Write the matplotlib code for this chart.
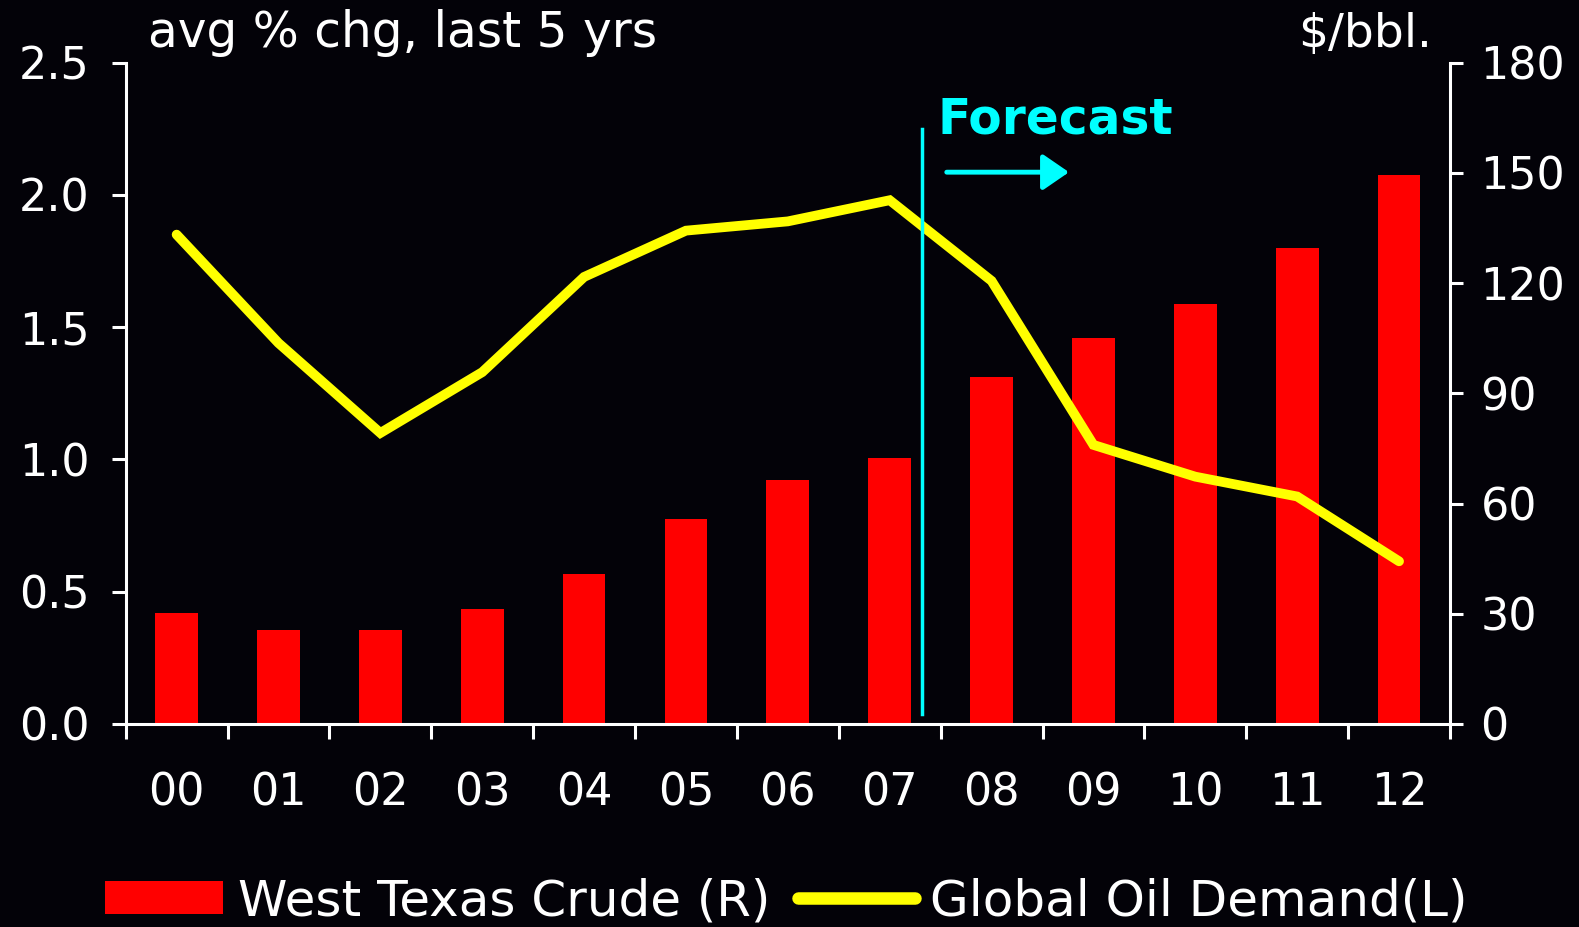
import numpy as np
import matplotlib
matplotlib.use("Agg")
import matplotlib.pyplot as plt
from matplotlib.patches import Patch
from matplotlib.lines import Line2D

plt.rcParams['font.family'] = ['DejaVu Sans']

years = ["00", "01", "02", "03", "04", "05", "06", "07", "08", "09", "10", "11", "12"]
wti_crude = [30.2, 25.6, 25.6, 31.2, 40.8, 55.8, 66.4, 72.4, 94.4, 105.1, 114.3, 129.6, 149.5]
oil_demand = [1.85, 1.44, 1.10, 1.33, 1.69, 1.865, 1.90, 1.98, 1.675, 1.055, 0.935, 0.86, 0.615]
left_ticks = [0.0, 0.5, 1.0, 1.5, 2.0, 2.5]
right_ticks = [0, 30, 60, 90, 120, 150, 180]

BG = '#030208'
RED = '#FF0000'
YEL = '#FFFF00'
CYAN = '#00FFFF'

fig = plt.figure(figsize=(15.79, 9.27), dpi=100, facecolor=BG)
ax = fig.add_axes([0.0796, 0.219, 0.8387, 0.7134])
ax2 = ax.twinx()
ax.set_zorder(ax2.get_zorder() + 1)
ax.patch.set_visible(False)
ax2.set_facecolor(BG)

x = np.arange(len(years))
ax2.bar(x, wti_crude, width=0.42, color=RED, linewidth=0)
ax.plot(x, oil_demand, color=YEL, linewidth=7, solid_capstyle='round',
        solid_joinstyle='miter')

ax.set_xlim(-0.5, len(years) - 0.5)
ax.set_ylim(0, 2.5)
ax2.set_ylim(0, 180)

ax.set_yticks(left_ticks)
ax.set_yticklabels([f"{v:.1f}" for v in left_ticks])
ax2.set_yticks(right_ticks)
ax2.set_yticklabels([str(v) for v in right_ticks])

ax.set_xticks(np.arange(-0.5, len(years), 1.0))
ax.set_xticklabels([])
ax.set_xticks(x, minor=True)
ax.set_xticklabels(years, minor=True)

for sp in ['top', 'right']:
    ax.spines[sp].set_visible(False)
for sp in ['left', 'bottom']:
    ax.spines[sp].set_color('white')
    ax.spines[sp].set_linewidth(2.2)
for sp in ['top', 'left', 'bottom']:
    ax2.spines[sp].set_visible(False)
ax2.spines['right'].set_color('white')
ax2.spines['right'].set_linewidth(2.2)

ax.tick_params(axis='x', which='major', direction='out', length=11, width=2.2, color='white')
ax.tick_params(axis='x', which='minor', length=0, pad=34, labelsize=32, labelcolor='white')
ax.tick_params(axis='y', direction='out', length=10, width=2.2, color='white', pad=16,
               labelsize=32, labelcolor='white')
ax2.tick_params(axis='y', direction='out', length=9, width=2.2, color='white', pad=13,
                labelsize=32, labelcolor='white')

# Forecast marker
ax.axvline(7.32, ymin=0.015, ymax=0.9, color=CYAN, linewidth=2.5, zorder=5)
ax.annotate('', xy=(8.76, 2.086), xytext=(7.56, 2.086),
            arrowprops=dict(arrowstyle='-|>,head_length=0.8,head_width=0.55',
                            color=CYAN, lw=3.5, mutation_scale=20, capstyle='round',
                            shrinkA=0, shrinkB=0))
ax.text(7.47, 2.233, 'Forecast', color=CYAN, fontsize=35, fontweight='bold',
        ha='left', va='baseline')

fig.text(148 / 1579, 1 - 47 / 927, 'avg % chg, last 5 yrs', color='white',
         fontsize=35, ha='left', va='baseline')
fig.text(1432 / 1579, 1 - 47 / 927, '$/bbl.', color='white',
         fontsize=34, ha='right', va='baseline')

handles = [Patch(facecolor=RED, edgecolor='none'),
           Line2D([0], [0], color=YEL, linewidth=9, solid_capstyle='round')]
labels = ['West Texas Crude (R)', 'Global Oil Demand(L)']
leg = fig.legend(handles, labels, loc='center', bbox_to_anchor=(0.498, 0.028),
                 ncol=2, frameon=False, fontsize=36, handlelength=2.35,
                 handleheight=0.62, handletextpad=0.3, columnspacing=0.55,
                 borderpad=0, borderaxespad=0)
for t in leg.get_texts():
    t.set_color('white')

fig.savefig('out.png', dpi=100, facecolor=BG)
